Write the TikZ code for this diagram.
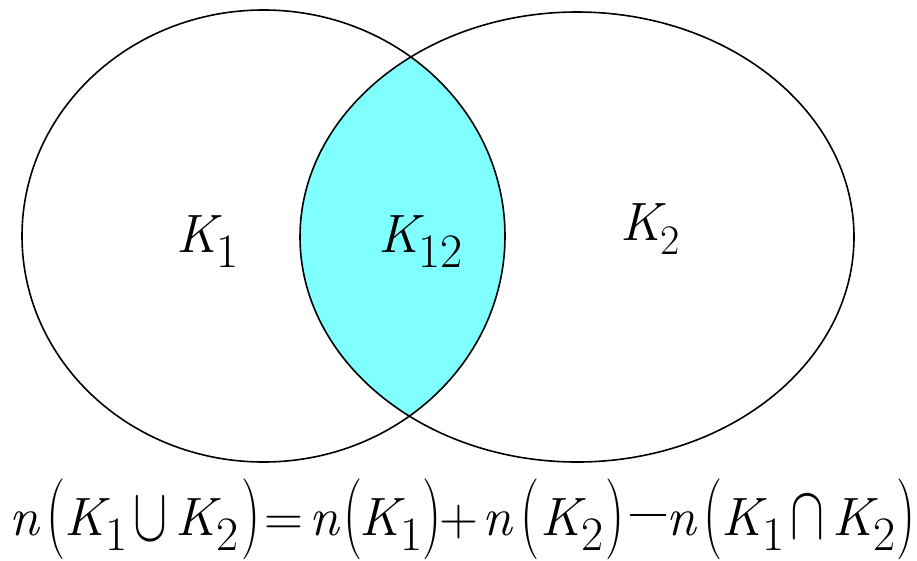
\documentclass[tikz,border=0pt]{standalone}
\usepackage{amsmath}
\usepackage{graphicx}
\definecolor{lenscol}{RGB}{128,255,255}
\newcommand{\sbs}[1]{\hspace{-5pt}\raisebox{-15pt}{\fontsize{48}{48}\selectfont #1}}
\newcommand{\Ksub}[1]{\textit{K}\sbs{#1}}
\newcommand{\BP}[1]{\makebox[14pt]{\raisebox{-4pt}{\scalebox{1}[1.5]{#1}}}}
\newcommand{\UN}{\raisebox{-5pt}{\resizebox{34pt}{42pt}{$\cup$}}}
\newcommand{\IN}{\raisebox{-3pt}{\resizebox{34pt}{42pt}{$\cap$}}}
\newcommand{\MN}{\raisebox{19pt}{\rule{36pt}{1.8pt}}}
\newcommand{\PL}{\makebox[34pt]{+}}
\begin{document}
\begin{tikzpicture}[x=1pt,y=-1pt,
  ring/.style={draw=black, line width=1.6pt},
  lens/.style={fill=lenscol},
  lbl/.style={anchor=base west, inner sep=0pt, font=\rmfamily\fontsize{54}{60}\selectfont},
  tok/.style={anchor=base, inner sep=0pt, font=\rmfamily\fontsize{54}{60}\selectfont}]
\useasboundingbox (0,0) rectangle (917,560);
\fill[white] (0,0) rectangle (917,560);
\begin{scope}
  \clip (263.5,236) ellipse [x radius=241.5, y radius=226];
  \fill[lens] (577,237) ellipse [x radius=277, y radius=225];
\end{scope}
\draw[ring] (263.5,236) ellipse [x radius=241.5, y radius=226];
\draw[ring] (577,237) ellipse [x radius=277, y radius=225];
\node[lbl] (k1) at (176,252) {\Ksub{1}};
\node[lbl] (k12) at (378,252) {\Ksub{12}};
\node[lbl] (k2) at (620,240) {\textit{K}\hspace{-5pt}\raisebox{-14pt}{\fontsize{42}{42}\selectfont 2}};
% formula n(K1 U K2) = n(K1) + n(K2) - n(K1 n K2)
\foreach \x/\t [count=\i] in {
  25/{\textit{n}}, 56/{\BP{(}}, 96/{\Ksub{1}}, 150/{\UN}, 207/{\Ksub{2}}, 251/{\BP{)}},
  284/{=}, 325/{\textit{n}}, 353/{\BP{(}}, 391/{\Ksub{1}}, 432/{\BP{)}},
  459/{\PL}, 498/{\textit{n}}, 530/{\BP{(}}, 572/{\Ksub{2}}, 615/{\BP{)}},
  648/{\MN}, 682/{\textit{n}}, 713/{\BP{(}}, 753/{\Ksub{1}}, 807/{\IN}, 864/{\Ksub{2}}, 906/{\BP{)}}}
  \node[tok] (f\i) at (\x,535) {\t};
\end{tikzpicture}
\end{document}
